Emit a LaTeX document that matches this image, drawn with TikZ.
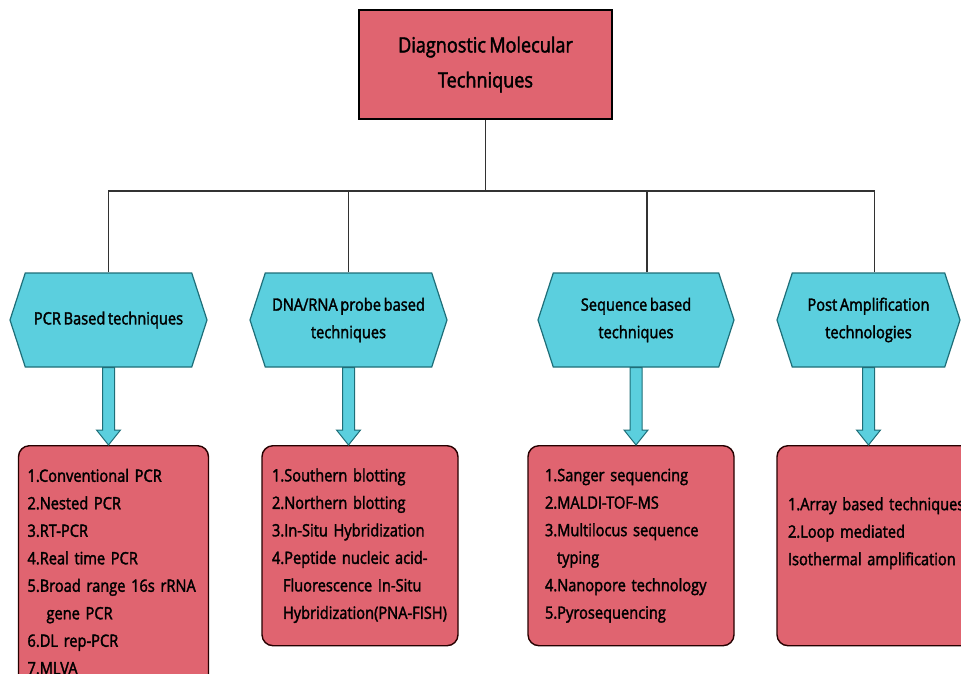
\documentclass[tikz,border=0pt]{standalone}
\usepackage{fontspec}
\setmainfont{Open Sans}[FakeStretch=0.86,FakeBold=2,WordSpace=0.7]
\usetikzlibrary{shapes.symbols,calc}
\definecolor{boxred}{RGB}{224,100,112}
\definecolor{hexcyan}{RGB}{91,207,222}
\definecolor{hexline}{RGB}{30,110,120}
\definecolor{linkgray}{RGB}{50,50,50}
\tikzset{
  topbox/.style={draw=black, line width=1.6pt, fill=boxred, minimum width=253pt,
    minimum height=109pt, align=center, font=\fontsize{21}{35}\selectfont},
  group/.style={signal, signal to=west and east, signal pointer angle=144,
    draw=hexline, line width=1.2pt, fill=hexcyan, minimum width=197pt,
    minimum height=94pt, inner sep=0pt, align=center,
    font=\fontsize{17}{27.5}\selectfont},
  listbox/.style={draw=black!85!red, line width=1.4pt, fill=boxred,
    rounded corners=11pt, anchor=north, align=left, minimum height=200pt,
    font=\fontsize{17}{27.5}\selectfont},
  link/.style={draw=linkgray, line width=1.1pt},
  fatarrow/.style={fill=hexcyan, draw=hexline, line width=1pt, line join=miter}
}
% block arrow from a group down to its list
\newcommand\fatarrow[2]{%
  \path[fatarrow] ($(#1.south)+(-6,0)$) -- ($(#1.south |- #2.north)+(-6,-15)$)
    -- ++(-6,0) -- (#1.south |- #2.north) -- ++(12,-15) -- ++(-6,0)
    -- ($(#1.south)+(6,0)$) -- cycle;}
\begin{document}
\begin{tikzpicture}[x=1pt,y=-1pt]
    \clip (0,0) rectangle (961,673);
    \node[topbox] (top) at (485.5,64.5) {Diagnostic Molecular\\Techniques};
    %\draw[help lines] (0,0) grid[step=50] (961,673);
    \node[group] (pcr) at (108.5,320) {PCR Based techniques};
    \node[group] (probe) at (348.5,320) {DNA/RNA probe based\\techniques};
    \node[group, minimum width=196pt] (seq) at (636,320) {Sequence based\\techniques};
    \node[group, minimum width=183pt] (post) at (868.5,320) {Post Amplification\\technologies};
    \coordinate (bus) at (485.5,191);
    \draw[link] (top) -- (bus);
    \draw[link] (pcr.north) |- ([xshift=6pt]post.north |- bus) -- ([xshift=6pt]post.north);
    \draw[link] (probe.north) -- (probe.north |- bus);
    \draw[link] ([xshift=11pt]seq.north) -- ([xshift=11pt]seq.north |- bus);
    \node[listbox, text width=172pt, inner xsep=9pt, minimum height=252pt] (pcrlist) at (113.5,445)
      {1.Conventional PCR\\2.Nested PCR\\3.RT-PCR\\4.Real time PCR\\5.Broad range 16s rRNA\\
       \hspace*{19pt}gene PCR\\6.DL rep-PCR\\7.MLVA};
    \node[listbox, text width=176pt, inner xsep=10pt] (probelist) at (360,445)
      {1.Southern blotting\\2.Northern blotting\\3.In-Situ Hybridization\\4.Peptide nucleic acid-\\
       \hspace*{11pt}Fluorescence In-Situ\\\hspace*{11pt}Hybridization(PNA-FISH)};
    \node[listbox, text width=172pt, inner xsep=17pt] (seqlist) at (631,445)
      {1.Sanger sequencing\\2.MALDI-TOF-MS\\3.Multilocus sequence\\\hspace*{12pt}typing\\
       4.Nanopore technology\\5.Pyrosequencing};
    \node[listbox, text width=190pt, inner xsep=11pt, text depth=84pt] (postlist) at (883,445)
      {1.Array based techniques\\2.Loop mediated\\Isothermal amplification};
    \fatarrow{pcr}{pcrlist}
    \fatarrow{probe}{probelist}
    \fatarrow{seq}{seqlist}
    \fatarrow{post}{postlist}
\end{tikzpicture}
\end{document}
